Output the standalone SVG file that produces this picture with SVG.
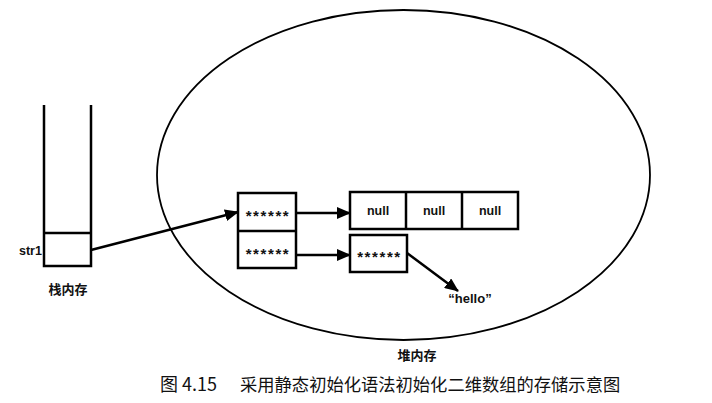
<svg xmlns="http://www.w3.org/2000/svg" width="712" height="403" viewBox="0 0 712 403">
<style>
.ln{fill:none;stroke:#000;stroke-width:2.5}
.bx{fill:#fff;stroke:#000;stroke-width:2.5}
.t{font-family:"Liberation Sans",Arial,sans-serif;font-weight:bold;font-size:12.5px;fill:#111}
.st{font-family:"Liberation Sans",Arial,sans-serif;font-weight:bold;font-size:15px;letter-spacing:1.6px;fill:#111}
.cj{font-family:"Noto Sans CJK SC",sans-serif;font-weight:bold;font-size:13px;fill:#111}
.cap{font-family:"Noto Sans CJK SC",sans-serif;font-size:17.3px;fill:#111}
.conn{fill:none;stroke:#000;stroke-width:2.5}
</style>
<defs>
<marker id="ah" markerWidth="14" markerHeight="12" refX="13" refY="6" orient="auto" markerUnits="userSpaceOnUse">
<path d="M0,0 L14,6 L0,12 z" fill="#000"/>
</marker>
</defs>
<g id="heap">
<ellipse cx="403.5" cy="175" rx="246.5" ry="165" fill="none" stroke="#000" stroke-width="1.8"/>
<text class="cj" x="417" y="360" text-anchor="middle">堆内存</text>
</g>
<g id="stack">
<path class="ln" d="M44,105 V266 H91 V105"/>
<line class="ln" x1="44" y1="233" x2="91" y2="233"/>
<text class="t" x="19" y="255">str1</text>
<text class="cj" x="68" y="294" text-anchor="middle">栈内存</text>
</g>
<g id="outer-array">
<rect class="bx" x="238" y="193" width="58" height="75"/>
<line class="ln" x1="238" y1="231" x2="296" y2="231"/>
<text class="st" x="268" y="221" text-anchor="middle">******</text>
<text class="st" x="268" y="259" text-anchor="middle">******</text>
</g>
<g id="null-array">
<rect class="bx" x="350" y="192" width="168" height="37"/>
<line class="ln" x1="406" y1="192" x2="406" y2="229"/>
<line class="ln" x1="462" y1="192" x2="462" y2="229"/>
<text class="t" x="378" y="215" text-anchor="middle">null</text>
<text class="t" x="434" y="215" text-anchor="middle">null</text>
<text class="t" x="490" y="215" text-anchor="middle">null</text>
</g>
<g id="string-array">
<rect class="bx" x="350" y="235" width="57" height="37"/>
<text class="st" x="379.5" y="262" text-anchor="middle">******</text>
</g>
<g id="hello">
<text class="t" x="470" y="303" text-anchor="middle" style="font-size:13px">“hello”</text>
</g>
<g id="connectors">
<line class="conn" x1="91" y1="250" x2="238" y2="212" marker-end="url(#ah)"/>
<line class="conn" x1="296" y1="213" x2="350" y2="213" marker-end="url(#ah)"/>
<line class="conn" x1="296" y1="255" x2="350" y2="255" marker-end="url(#ah)"/>
<line class="conn" x1="407" y1="253" x2="458" y2="291" marker-end="url(#ah)"/>
</g>
<g id="caption">
<text class="cap" x="160" y="391" style="font-size:18px">图 4.15</text>
<text class="cap" x="240" y="391">采用静态初始化语法初始化二维数组的存储示意图</text>
</g>
</svg>
